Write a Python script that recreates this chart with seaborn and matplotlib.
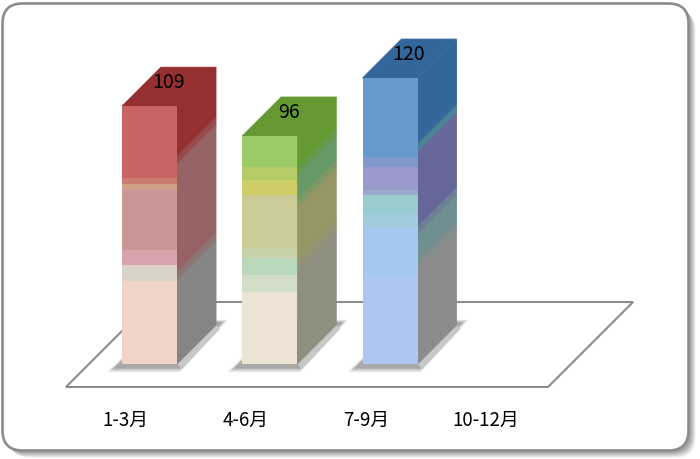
import matplotlib
matplotlib.use("Agg")
import matplotlib.pyplot as plt
import matplotlib.transforms as mtrans
from matplotlib.patches import FancyBboxPatch, Polygon
import pandas as pd
import seaborn as sns

# ---- data ------------------------------------------------------------------
quarters = ["1-3月", "4-6月", "7-9月", "10-12月"]
totals = [109, 96, 120]

q1_values = [34.9, 6.7, 6.3, 25.3, 2.5, 2.55, 30.3]
q2_values = [30.3, 7.2, 7.2, 4.2, 22.3, 6.3, 5.5, 13.0]
q3_values = [37.0, 20.6, 6.3, 7.2, 2.1, 9.7, 4.2, 33.3]
front_values = [q1_values, q2_values, q3_values]

q1_colors = ["#F0D4C8", "#DCD3C8", "#D8A4AC", "#C99896", "#D0A088", "#CB7C70", "#C96464"]
q2_colors = ["#EDE3D4", "#D2DDC7", "#BAD8BC", "#C8D2A8", "#CCCA96", "#CFCE66", "#B5CC66", "#99CB66"]
q3_colors = ["#ABC7F2", "#A5C9EE", "#A0CBDC", "#99CCCC", "#99A8CC", "#9999CC", "#7F99CC", "#6699CC"]
front_colors = [q1_colors, q2_colors, q3_colors]

side_q1_values = [35.5, 3.6, 45.4, 3.4, 20.7]
side_q2_values = [40.8, 3.4, 21.9, 3.4, 10.1, 3.4, 13.0]
side_q3_values = [40.8, 3.4, 10.5, 3.4, 31.5, 3.4, 27.2]
side_values = [side_q1_values, side_q2_values, side_q3_values]

side_q1_colors = ["#858585", "#8E7474", "#966464", "#964A4A", "#952F30"]
side_q2_colors = ["#8F8F7F", "#939372", "#979765", "#7F9866", "#669966", "#66994C", "#659A33"]
side_q3_colors = ["#8C8C8C", "#7E8E8E", "#6F9090", "#6B8095", "#666699", "#4D8099", "#336699"]
side_colors = [side_q1_colors, side_q2_colors, side_q3_colors]
top_colors = ["#952F30", "#659A33", "#336699"]

# ---- layout ----------------------------------------------------------------
W, H = 700, 459
PX_PER_CAT = 120.25
PX_PER_UNIT = 2.375
ZERO_X, ZERO_Y = 149.5, 364.0
AX_BOTTOM_PX = 403.0
BAR_W = 55 / PX_PER_CAT
DX = 39 / PX_PER_CAT
DY = 39 / PX_PER_UNIT


def px(x=None, y=None):
    """Frame position in reference pixels -> data units."""
    if x is not None:
        return (x - ZERO_X) / PX_PER_CAT
    return (ZERO_Y - y) / PX_PER_UNIT


sns.set_theme(style="white")
plt.rcParams["font.family"] = ["Noto Sans CJK JP", "DejaVu Sans"]

fig = plt.figure(figsize=(W / 100, H / 100), dpi=100, facecolor="white")
ax = fig.add_axes([0, (H - AX_BOTTOM_PX) / H, 1, AX_BOTTOM_PX / H])
ax.patch.set_visible(False)

# card with soft shadow
pix = mtrans.Affine2D().scale(1, -1).translate(0, H)
for off, a in [(7, 0.12), (6, 0.15), (5, 0.18), (4, 0.2), (3, 0.24), (2, 0.28)]:
    fig.add_artist(FancyBboxPatch((2.5 + off, 3.5 + off), 686, 447,
                                  boxstyle="round,pad=0,rounding_size=20",
                                  transform=pix, fc="#808080", ec="none",
                                  alpha=a, zorder=-3))
fig.add_artist(FancyBboxPatch((2.5, 3.5), 686, 447,
                              boxstyle="round,pad=0,rounding_size=20",
                              transform=pix, fc="white", ec="#8C8C8C", lw=1.9,
                              zorder=-2))

# stacked front faces through seaborn
for i, (vals, cols) in enumerate(zip(front_values, front_colors)):
    bottom = 0.0
    for v, c in zip(vals, cols):
        seg = pd.DataFrame({"quarter": [quarters[i]], "value": [v]})
        sns.barplot(data=seg, x="quarter", y="value", order=quarters, color=c,
                    saturation=1, width=BAR_W, bottom=bottom, ax=ax, zorder=5,
                    linewidth=0, errorbar=None)
        bottom += v

# floor
x0, x1 = px(x=66), px(x=548)
y0, y1 = px(y=387), px(y=302)
floor_dx = px(x=151) - px(x=66)
ax.add_patch(Polygon([(x0, y0), (x1, y0), (x1 + floor_dx, y1), (x0 + floor_dx, y1)],
                     closed=True, fc="white", ec="#8C8C8C", lw=1.5, zorder=1,
                     clip_on=False))

# shadows under bars, side and top faces
ex = 1 / PX_PER_CAT
ey = 1 / PX_PER_UNIT
for i, (vals, cols, top) in enumerate(zip(side_values, side_colors, top_colors)):
    l, r = i - BAR_W / 2, i + BAR_W / 2
    for e, shade in [(15, "#EEEEEE"), (13.5, "#E2E2E2"), (12, "#D4D4D4"),
                     (10.5, "#C4C4C4"), (9, "#B4B4B4"), (7.5, "#A8A8A8")]:
        ax.add_patch(Polygon([(l - e * ex, -(e * 0.55) * ey),
                              (r + 3 * ex, -(e * 0.55) * ey),
                              (r + DX + e * 0.8 * ex, DY + e * 0.35 * ey),
                              (l + DX, DY + e * 0.35 * ey)],
                             closed=True, fc=shade, ec="none", zorder=1.5))
    ax.add_patch(Polygon([(r, 0), (r + DX, DY), (r + DX + 4 * ex, DY - 4 * ey),
                          (r + 5 * ex, -5 * ey)],
                         closed=True, fc="#C8C8C8", ec="none", zorder=1.6))
    bottom = 0.0
    for v, c in zip(vals, cols):
        ax.add_patch(Polygon([(r, bottom), (r + DX, bottom + DY),
                              (r + DX, bottom + v + DY), (r, bottom + v)],
                             closed=True, fc=c, ec=c, lw=0.6, zorder=2))
        bottom += v
    h = sum(front_values[i])
    ax.add_patch(Polygon([(l, h), (r, h), (r + DX, h + DY), (l + DX, h + DY)],
                         closed=True, fc=top, ec=top, lw=0.6, zorder=3))
    ax.text(i + 19 / PX_PER_CAT, h + 24 / PX_PER_UNIT, str(totals[i]),
            ha="center", va="center", fontsize=14, color="black", zorder=6)

ax.set_xlim(px(x=0), px(x=W))
ax.set_ylim(px(y=AX_BOTTOM_PX), px(y=0))
ax.set_xlabel("")
ax.set_ylabel("")
ax.set_yticks([])
ax.set_xticks(range(len(quarters)))
ax.set_xticklabels(quarters)
ax.tick_params(axis="x", length=0, pad=5, labelsize=13.5, colors="black")
shift = mtrans.ScaledTranslation(-24 / 100, 0, fig.dpi_scale_trans)
for lab in ax.get_xticklabels():
    lab.set_transform(lab.get_transform() + shift)
sns.despine(ax=ax, left=True, bottom=True)

fig.savefig("out.png", dpi=100, facecolor="white")
